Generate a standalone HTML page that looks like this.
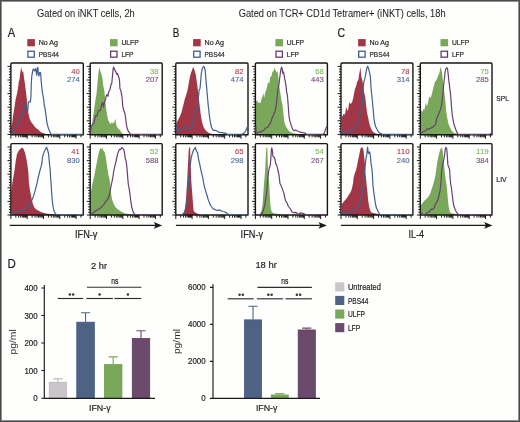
<!DOCTYPE html>
<html><head><meta charset="utf-8"><style>
html,body{margin:0;padding:0;background:#fff;}
body{width:520px;height:422px;overflow:hidden;}
svg{display:block;will-change:transform;}
text{font-family:"Liberation Sans",sans-serif;}
</style></head><body>
<svg width="520" height="422" viewBox="0 0 520 422">
<rect x="0" y="0" width="520" height="422" fill="#fefefd"/>
<text x="37" y="16.8" font-size="10.6" textLength="97.7" lengthAdjust="spacingAndGlyphs" fill="#231f20" stroke="#231f20" stroke-width="0.06" >Gated on iNKT cells, 2h</text>
<text x="238.7" y="16.8" font-size="10.6" textLength="206.9" lengthAdjust="spacingAndGlyphs" fill="#231f20" stroke="#231f20" stroke-width="0.06" >Gated on TCR+ CD1d Tetramer+ (iNKT) cells, 18h</text>
<text x="7.7" y="36.6" font-size="12.4" textLength="7.4" lengthAdjust="spacingAndGlyphs" fill="#231f20" stroke="#231f20" stroke-width="0.2" >A</text>
<text x="172.8" y="36.5" font-size="12.4" textLength="6.6" lengthAdjust="spacingAndGlyphs" fill="#231f20" stroke="#231f20" stroke-width="0.2" >B</text>
<text x="337.6" y="36.6" font-size="12.4" textLength="7.6" lengthAdjust="spacingAndGlyphs" fill="#231f20" stroke="#231f20" stroke-width="0.2" >C</text>
<rect x="27.3" y="39.1" width="7.6" height="7.2" fill="#a13746"/>
<rect x="27.900000000000002" y="51.2" width="6.4" height="6.0" fill="none" stroke="#3b5784" stroke-width="1.25"/>
<text x="38.7" y="45.4" font-size="8.1" textLength="19.4" lengthAdjust="spacingAndGlyphs" fill="#231f20" stroke="#231f20" stroke-width="0.2" >No Ag</text>
<text x="38.7" y="56.9" font-size="8.1" textLength="20.2" lengthAdjust="spacingAndGlyphs" fill="#231f20" stroke="#231f20" stroke-width="0.2" >PBS44</text>
<rect x="110.0" y="39.1" width="7.6" height="7.2" fill="#79a85a"/>
<rect x="110.6" y="51.2" width="6.4" height="6.0" fill="none" stroke="#5f3863" stroke-width="1.25"/>
<text x="121.4" y="45.4" font-size="8.1" textLength="17.3" lengthAdjust="spacingAndGlyphs" fill="#231f20" stroke="#231f20" stroke-width="0.2" >ULFP</text>
<text x="121.4" y="56.9" font-size="8.1" textLength="12.1" lengthAdjust="spacingAndGlyphs" fill="#231f20" stroke="#231f20" stroke-width="0.2" >LFP</text>
<rect x="193.1" y="39.1" width="7.6" height="7.2" fill="#a13746"/>
<rect x="193.7" y="51.2" width="6.4" height="6.0" fill="none" stroke="#3b5784" stroke-width="1.25"/>
<text x="204.5" y="45.4" font-size="8.1" textLength="19.4" lengthAdjust="spacingAndGlyphs" fill="#231f20" stroke="#231f20" stroke-width="0.2" >No Ag</text>
<text x="204.5" y="56.9" font-size="8.1" textLength="20.2" lengthAdjust="spacingAndGlyphs" fill="#231f20" stroke="#231f20" stroke-width="0.2" >PBS44</text>
<rect x="275.4" y="39.1" width="7.6" height="7.2" fill="#79a85a"/>
<rect x="276.0" y="51.2" width="6.4" height="6.0" fill="none" stroke="#5f3863" stroke-width="1.25"/>
<text x="286.79999999999995" y="45.4" font-size="8.1" textLength="17.3" lengthAdjust="spacingAndGlyphs" fill="#231f20" stroke="#231f20" stroke-width="0.2" >ULFP</text>
<text x="286.79999999999995" y="56.9" font-size="8.1" textLength="12.1" lengthAdjust="spacingAndGlyphs" fill="#231f20" stroke="#231f20" stroke-width="0.2" >LFP</text>
<rect x="358.1" y="39.1" width="7.6" height="7.2" fill="#a13746"/>
<rect x="358.70000000000005" y="51.2" width="6.4" height="6.0" fill="none" stroke="#3b5784" stroke-width="1.25"/>
<text x="369.5" y="45.4" font-size="8.1" textLength="19.4" lengthAdjust="spacingAndGlyphs" fill="#231f20" stroke="#231f20" stroke-width="0.2" >No Ag</text>
<text x="369.5" y="56.9" font-size="8.1" textLength="20.2" lengthAdjust="spacingAndGlyphs" fill="#231f20" stroke="#231f20" stroke-width="0.2" >PBS44</text>
<rect x="440.5" y="39.1" width="7.6" height="7.2" fill="#79a85a"/>
<rect x="441.1" y="51.2" width="6.4" height="6.0" fill="none" stroke="#5f3863" stroke-width="1.25"/>
<text x="451.9" y="45.4" font-size="8.1" textLength="17.3" lengthAdjust="spacingAndGlyphs" fill="#231f20" stroke="#231f20" stroke-width="0.2" >ULFP</text>
<text x="451.9" y="56.9" font-size="8.1" textLength="12.1" lengthAdjust="spacingAndGlyphs" fill="#231f20" stroke="#231f20" stroke-width="0.2" >LFP</text>
<polygon points="11.30,134.70 11.30,127.80 11.80,125.20 12.50,120.80 13.10,115.50 14.00,110.30 14.80,105.00 15.70,99.00 16.60,95.50 17.50,91.10 18.30,85.80 18.80,81.40 19.50,79.70 20.10,74.40 20.70,70.00 21.20,67.00 21.80,70.00 22.50,72.60 23.20,70.90 23.60,74.40 24.00,77.90 24.90,83.20 25.40,87.60 26.00,92.00 26.50,96.30 26.80,99.00 27.40,106.80 28.00,111.20 28.90,115.50 29.70,119.10 31.00,121.70 32.40,123.40 33.70,125.20 35.00,127.00 36.30,128.30 38.10,129.60 39.80,131.30 41.60,132.60 44.20,133.50 46.00,134.00 48.00,134.50 48.00,134.70" fill="#a13746"/>
<path d="M10.9,134.7 L10.9,64.0 Q10.9,63.0 11.9,63.0 L82.3,63.0 Q83.3,63.0 83.3,64.0 L83.3,134.7 M10.4,134.7 L83.8,134.7" fill="none" stroke="#161616" stroke-width="1.4"/>
<polyline points="11.30,134.35 12.60,133.10 14.00,131.30 15.30,128.70 16.60,126.10 17.90,122.60 18.80,119.90 19.60,117.30 20.50,115.50 21.80,115.10 22.70,112.50 23.60,109.40 24.50,105.90 25.10,103.30 25.80,105.00 26.50,107.60 27.10,110.30 27.70,111.20 28.00,106.80 28.40,102.40 29.30,101.50 30.40,101.80 30.90,97.00 31.10,90.00 31.30,83.00 31.80,76.20 32.40,72.60 33.00,69.60 33.70,69.10 34.40,70.90 35.00,70.00 35.60,68.70 36.10,71.80 36.80,75.30 37.20,68.30 37.90,67.40 38.20,71.80 38.90,76.20 39.60,72.60 40.50,72.60 40.90,76.20 41.10,80.50 41.60,84.90 42.00,89.30 42.60,93.70 43.30,97.20 43.80,100.00 44.20,105.00 45.00,108.20 45.90,114.60 46.80,122.00 48.20,127.60 49.60,131.30 51.00,134.35 52.40,134.35 74.60,134.35 76.40,134.35 80.00,134.35 82.80,134.35" fill="none" stroke="#41608e" stroke-width="1.2" stroke-linejoin="round"/>
<path d="M7.50,66.40H10.9M8.90,69.12H10.9M8.90,71.84H10.9M8.90,74.56H10.9M8.90,77.28H10.9M7.50,80.00H10.9M8.90,82.72H10.9M8.90,85.44H10.9M8.90,88.16H10.9M8.90,90.88H10.9M7.50,93.60H10.9M8.90,96.32H10.9M8.90,99.04H10.9M8.90,101.76H10.9M8.90,104.48H10.9M7.50,107.20H10.9M8.90,109.92H10.9M8.90,112.64H10.9M8.90,115.36H10.9M8.90,118.08H10.9M7.50,120.80H10.9M8.90,123.52H10.9M8.90,126.24H10.9M8.90,128.96H10.9M8.90,131.68H10.9M7.50,134.40H10.9M10.90,134.7V138.70M15.81,134.7V137.30M18.68,134.7V137.30M20.71,134.7V137.30M22.29,134.7V137.30M23.58,134.7V137.30M24.68,134.7V137.30M25.62,134.7V137.30M26.45,134.7V137.30M27.20,134.7V138.70M32.11,134.7V137.30M34.98,134.7V137.30M37.01,134.7V137.30M38.59,134.7V137.30M39.88,134.7V137.30M40.98,134.7V137.30M41.92,134.7V137.30M42.75,134.7V137.30M43.50,134.7V138.70M48.41,134.7V137.30M51.28,134.7V137.30M53.31,134.7V137.30M54.89,134.7V137.30M56.18,134.7V137.30M57.28,134.7V137.30M58.22,134.7V137.30M59.05,134.7V137.30M59.80,134.7V138.70M64.71,134.7V137.30M67.58,134.7V137.30M69.61,134.7V137.30M71.19,134.7V137.30M72.48,134.7V137.30M73.58,134.7V137.30M74.52,134.7V137.30M75.35,134.7V137.30M76.10,134.7V138.70M81.01,134.7V137.30" stroke="#1a1a1a" stroke-width="1.0" fill="none"/>
<text x="79.7" y="73.5" font-size="8.0" text-anchor="end" textLength="8.50" lengthAdjust="spacingAndGlyphs" fill="#ad3c4e" stroke="#ad3c4e" stroke-width="0.1">40</text>
<text x="79.7" y="82.1" font-size="8.0" text-anchor="end" textLength="12.75" lengthAdjust="spacingAndGlyphs" fill="#4a6690" stroke="#4a6690" stroke-width="0.1">274</text>
<polygon points="90.60,134.70 90.60,131.30 91.20,127.80 92.10,123.40 92.90,118.20 93.80,112.00 94.70,105.00 95.60,99.00 96.50,93.70 97.10,87.60 97.60,81.40 98.20,76.20 98.60,71.80 99.10,68.30 99.50,67.40 100.00,70.00 100.60,71.80 101.30,73.50 102.00,77.00 102.60,78.80 103.00,84.10 103.70,87.60 104.40,91.10 104.80,95.50 105.20,99.00 105.70,105.00 106.50,111.20 107.40,116.40 108.30,120.40 109.20,121.70 110.10,124.30 110.90,123.40 111.60,122.10 112.20,123.90 113.10,122.10 114.00,123.40 114.90,119.90 115.50,119.10 116.00,123.40 116.60,126.10 117.90,128.30 119.30,129.60 120.60,131.30 121.90,133.10 123.20,134.00 125.00,134.50 125.00,134.70" fill="#79a85a"/>
<path d="M90.2,134.7 L90.2,64.0 Q90.2,63.0 91.2,63.0 L161.2,63.0 Q162.2,63.0 162.2,64.0 L162.2,134.7 M89.7,134.7 L162.7,134.7" fill="none" stroke="#161616" stroke-width="1.4"/>
<polyline points="90.30,133.10 91.20,127.00 92.50,124.30 93.80,123.40 94.70,119.90 95.60,115.50 96.50,116.40 97.30,114.70 98.20,111.20 99.10,110.30 100.00,110.70 100.80,108.50 101.70,105.00 102.60,102.40 103.50,106.80 104.40,102.40 105.00,100.60 105.70,98.90 106.10,96.30 107.00,94.60 107.90,96.30 108.70,92.00 110.10,89.30 110.90,84.90 111.80,83.20 112.20,78.80 112.70,73.50 113.10,69.10 113.60,67.00 114.40,69.10 115.30,70.90 116.20,72.60 116.90,74.40 117.50,73.50 118.40,76.20 119.30,78.80 119.70,83.20 119.90,88.40 120.60,90.20 121.30,92.80 121.90,96.30 122.30,100.00 122.60,105.00 123.20,108.50 124.10,111.20 124.90,113.50 125.70,118.30 126.30,123.90 127.20,128.50 128.60,131.70 130.50,134.35 133.20,134.35 142.50,134.35 156.30,134.35 161.50,134.35" fill="none" stroke="#68406e" stroke-width="1.2" stroke-linejoin="round"/>
<path d="M86.80,66.40H90.2M88.20,69.12H90.2M88.20,71.84H90.2M88.20,74.56H90.2M88.20,77.28H90.2M86.80,80.00H90.2M88.20,82.72H90.2M88.20,85.44H90.2M88.20,88.16H90.2M88.20,90.88H90.2M86.80,93.60H90.2M88.20,96.32H90.2M88.20,99.04H90.2M88.20,101.76H90.2M88.20,104.48H90.2M86.80,107.20H90.2M88.20,109.92H90.2M88.20,112.64H90.2M88.20,115.36H90.2M88.20,118.08H90.2M86.80,120.80H90.2M88.20,123.52H90.2M88.20,126.24H90.2M88.20,128.96H90.2M88.20,131.68H90.2M86.80,134.40H90.2M90.20,134.7V138.70M95.11,134.7V137.30M97.98,134.7V137.30M100.01,134.7V137.30M101.59,134.7V137.30M102.88,134.7V137.30M103.98,134.7V137.30M104.92,134.7V137.30M105.75,134.7V137.30M106.50,134.7V138.70M111.41,134.7V137.30M114.28,134.7V137.30M116.31,134.7V137.30M117.89,134.7V137.30M119.18,134.7V137.30M120.28,134.7V137.30M121.22,134.7V137.30M122.05,134.7V137.30M122.80,134.7V138.70M127.71,134.7V137.30M130.58,134.7V137.30M132.61,134.7V137.30M134.19,134.7V137.30M135.48,134.7V137.30M136.58,134.7V137.30M137.52,134.7V137.30M138.35,134.7V137.30M139.10,134.7V138.70M144.01,134.7V137.30M146.88,134.7V137.30M148.91,134.7V137.30M150.49,134.7V137.30M151.78,134.7V137.30M152.88,134.7V137.30M153.82,134.7V137.30M154.65,134.7V137.30M155.40,134.7V138.70M160.31,134.7V137.30" stroke="#1a1a1a" stroke-width="1.0" fill="none"/>
<text x="158.4" y="73.5" font-size="8.0" text-anchor="end" textLength="8.50" lengthAdjust="spacingAndGlyphs" fill="#7db35e" stroke="#7db35e" stroke-width="0.1">38</text>
<text x="158.4" y="82.1" font-size="8.0" text-anchor="end" textLength="12.75" lengthAdjust="spacingAndGlyphs" fill="#744c74" stroke="#744c74" stroke-width="0.1">207</text>
<polygon points="176.20,134.70 176.20,124.50 176.80,122.60 177.60,120.80 179.00,118.20 180.30,115.50 181.60,112.00 182.90,106.80 183.80,103.30 184.80,99.00 186.00,95.50 187.30,91.10 188.20,86.70 189.00,81.40 189.90,77.00 190.80,73.50 191.70,70.90 192.50,68.70 193.40,67.00 194.10,69.10 195.00,71.80 195.90,75.30 196.50,79.70 197.40,85.80 198.00,91.10 198.70,97.00 199.40,103.30 200.00,108.50 200.90,115.50 201.80,120.80 202.60,124.30 203.90,127.80 205.70,130.50 207.90,132.20 210.10,133.50 213.00,134.20 215.00,134.50 215.00,134.70" fill="#a13746"/>
<path d="M175.8,134.7 L175.8,64.0 Q175.8,63.0 176.8,63.0 L247.0,63.0 Q248.0,63.0 248.0,64.0 L248.0,134.7 M175.3,134.7 L248.5,134.7" fill="none" stroke="#161616" stroke-width="1.4"/>
<polyline points="176.20,126.50 176.80,129.60 177.60,130.90 178.50,131.30 179.80,131.30 181.10,130.50 182.00,129.60 183.30,128.70 184.60,127.80 186.00,126.90 187.30,127.40 188.20,128.30 189.00,128.70 190.40,128.30 191.70,127.40 192.50,124.30 193.90,119.90 195.20,115.50 196.50,110.30 197.40,105.00 198.20,99.00 198.70,94.60 199.10,90.20 200.00,88.40 200.40,84.10 200.90,78.80 201.30,73.50 202.20,69.10 203.10,67.00 203.80,66.30 204.60,67.80 205.30,70.90 205.70,76.20 206.10,82.30 206.80,89.30 207.40,96.00 207.90,102.00 208.50,108.00 209.20,114.00 209.90,119.50 210.70,124.00 211.60,127.50 212.50,129.40 213.70,130.30 215.50,130.30 217.40,131.30 219.20,132.40 222.00,132.70 224.80,133.10 227.60,134.35 237.70,134.35 241.90,134.35 244.20,132.70 245.60,131.30 246.50,129.00 247.40,126.70" fill="none" stroke="#41608e" stroke-width="1.2" stroke-linejoin="round"/>
<path d="M172.40,66.40H175.8M173.80,69.12H175.8M173.80,71.84H175.8M173.80,74.56H175.8M173.80,77.28H175.8M172.40,80.00H175.8M173.80,82.72H175.8M173.80,85.44H175.8M173.80,88.16H175.8M173.80,90.88H175.8M172.40,93.60H175.8M173.80,96.32H175.8M173.80,99.04H175.8M173.80,101.76H175.8M173.80,104.48H175.8M172.40,107.20H175.8M173.80,109.92H175.8M173.80,112.64H175.8M173.80,115.36H175.8M173.80,118.08H175.8M172.40,120.80H175.8M173.80,123.52H175.8M173.80,126.24H175.8M173.80,128.96H175.8M173.80,131.68H175.8M172.40,134.40H175.8M175.80,134.7V138.70M180.71,134.7V137.30M183.58,134.7V137.30M185.61,134.7V137.30M187.19,134.7V137.30M188.48,134.7V137.30M189.58,134.7V137.30M190.52,134.7V137.30M191.35,134.7V137.30M192.10,134.7V138.70M197.01,134.7V137.30M199.88,134.7V137.30M201.91,134.7V137.30M203.49,134.7V137.30M204.78,134.7V137.30M205.88,134.7V137.30M206.82,134.7V137.30M207.65,134.7V137.30M208.40,134.7V138.70M213.31,134.7V137.30M216.18,134.7V137.30M218.21,134.7V137.30M219.79,134.7V137.30M221.08,134.7V137.30M222.18,134.7V137.30M223.12,134.7V137.30M223.95,134.7V137.30M224.70,134.7V138.70M229.61,134.7V137.30M232.48,134.7V137.30M234.51,134.7V137.30M236.09,134.7V137.30M237.38,134.7V137.30M238.48,134.7V137.30M239.42,134.7V137.30M240.25,134.7V137.30M241.00,134.7V138.70M245.91,134.7V137.30" stroke="#1a1a1a" stroke-width="1.0" fill="none"/>
<text x="243.5" y="73.5" font-size="8.0" text-anchor="end" textLength="8.50" lengthAdjust="spacingAndGlyphs" fill="#ad3c4e" stroke="#ad3c4e" stroke-width="0.1">82</text>
<text x="243.5" y="82.1" font-size="8.0" text-anchor="end" textLength="12.75" lengthAdjust="spacingAndGlyphs" fill="#4a6690" stroke="#4a6690" stroke-width="0.1">474</text>
<polygon points="255.60,134.70 255.60,101.00 256.50,101.50 257.20,100.00 258.00,103.00 259.00,102.50 260.50,103.00 261.50,99.00 262.80,95.50 263.50,92.80 264.10,98.00 265.40,92.00 266.70,88.40 268.00,82.30 269.40,83.20 270.20,77.00 271.50,76.20 272.40,71.80 273.70,70.90 274.60,67.80 275.50,70.00 276.40,72.60 277.20,70.90 277.90,73.50 278.60,80.50 279.40,87.60 280.30,92.80 281.20,99.00 282.50,105.00 283.40,113.80 284.30,121.70 285.60,126.10 287.30,128.70 289.10,131.00 290.80,132.20 294.50,133.60 298.20,134.00 302.00,134.50 302.00,134.70" fill="#79a85a"/>
<path d="M255.4,134.7 L255.4,64.0 Q255.4,63.0 256.4,63.0 L326.4,63.0 Q327.4,63.0 327.4,64.0 L327.4,134.7 M254.9,134.7 L327.9,134.7" fill="none" stroke="#161616" stroke-width="1.4"/>
<polyline points="255.80,126.00 255.90,132.60 257.10,133.10 258.40,132.20 260.10,131.80 261.90,131.30 263.60,130.50 265.00,128.70 266.30,127.80 268.00,127.00 269.40,124.30 270.70,122.60 272.00,118.20 273.30,115.50 274.60,112.00 275.50,109.40 276.60,103.00 277.20,96.00 278.10,88.40 279.00,84.10 279.60,78.80 280.30,73.50 281.00,69.10 281.60,67.00 282.20,69.10 282.80,73.50 283.40,71.80 284.00,74.40 284.70,78.80 285.60,83.20 286.30,88.40 286.60,91.90 287.30,94.60 287.80,100.00 288.40,108.00 289.00,116.50 289.90,121.10 291.30,125.70 292.70,129.40 294.10,130.80 295.50,129.90 296.90,130.80 298.20,131.30 300.10,132.20 302.90,132.70 304.70,132.90 306.60,134.35 312.10,134.35 319.50,134.35 322.70,134.35 324.60,132.70 325.50,129.40 326.40,127.60 327.00,126.00" fill="none" stroke="#68406e" stroke-width="1.2" stroke-linejoin="round"/>
<path d="M252.00,66.40H255.4M253.40,69.12H255.4M253.40,71.84H255.4M253.40,74.56H255.4M253.40,77.28H255.4M252.00,80.00H255.4M253.40,82.72H255.4M253.40,85.44H255.4M253.40,88.16H255.4M253.40,90.88H255.4M252.00,93.60H255.4M253.40,96.32H255.4M253.40,99.04H255.4M253.40,101.76H255.4M253.40,104.48H255.4M252.00,107.20H255.4M253.40,109.92H255.4M253.40,112.64H255.4M253.40,115.36H255.4M253.40,118.08H255.4M252.00,120.80H255.4M253.40,123.52H255.4M253.40,126.24H255.4M253.40,128.96H255.4M253.40,131.68H255.4M252.00,134.40H255.4M255.40,134.7V138.70M260.31,134.7V137.30M263.18,134.7V137.30M265.21,134.7V137.30M266.79,134.7V137.30M268.08,134.7V137.30M269.18,134.7V137.30M270.12,134.7V137.30M270.95,134.7V137.30M271.70,134.7V138.70M276.61,134.7V137.30M279.48,134.7V137.30M281.51,134.7V137.30M283.09,134.7V137.30M284.38,134.7V137.30M285.48,134.7V137.30M286.42,134.7V137.30M287.25,134.7V137.30M288.00,134.7V138.70M292.91,134.7V137.30M295.78,134.7V137.30M297.81,134.7V137.30M299.39,134.7V137.30M300.68,134.7V137.30M301.78,134.7V137.30M302.72,134.7V137.30M303.55,134.7V137.30M304.30,134.7V138.70M309.21,134.7V137.30M312.08,134.7V137.30M314.11,134.7V137.30M315.69,134.7V137.30M316.98,134.7V137.30M318.08,134.7V137.30M319.02,134.7V137.30M319.85,134.7V137.30M320.60,134.7V138.70M325.51,134.7V137.30" stroke="#1a1a1a" stroke-width="1.0" fill="none"/>
<text x="323.7" y="73.5" font-size="8.0" text-anchor="end" textLength="8.50" lengthAdjust="spacingAndGlyphs" fill="#7db35e" stroke="#7db35e" stroke-width="0.1">68</text>
<text x="323.7" y="82.1" font-size="8.0" text-anchor="end" textLength="12.75" lengthAdjust="spacingAndGlyphs" fill="#744c74" stroke="#744c74" stroke-width="0.1">443</text>
<polygon points="341.80,134.70 341.80,115.50 342.60,116.40 343.50,113.80 344.40,114.70 345.30,112.90 346.10,106.80 347.00,109.40 347.90,111.20 348.80,105.00 349.50,101.50 350.10,104.10 351.40,103.30 352.30,101.50 353.20,98.00 354.00,93.70 354.90,89.30 356.20,85.80 357.10,81.90 358.40,79.70 359.30,73.50 360.00,70.00 360.40,67.00 360.90,71.80 361.20,76.20 361.90,78.80 362.60,81.40 363.20,85.80 364.10,92.00 365.00,96.30 365.60,100.00 366.30,106.80 367.20,113.80 368.10,117.30 368.90,121.70 369.80,125.20 371.10,128.70 372.50,131.30 373.80,132.60 376.00,133.50 378.70,134.20 381.00,134.50 381.00,134.70" fill="#a13746"/>
<path d="M341.0,134.7 L341.0,64.0 Q341.0,63.0 342.0,63.0 L411.9,63.0 Q412.9,63.0 412.9,64.0 L412.9,134.7 M340.5,134.7 L413.4,134.7" fill="none" stroke="#161616" stroke-width="1.4"/>
<polyline points="341.30,128.70 341.80,131.30 342.60,132.60 343.90,132.60 346.10,132.00 347.90,131.30 350.50,130.90 352.30,130.50 354.00,129.10 355.80,126.10 357.10,123.40 358.00,121.20 358.90,119.90 359.70,115.50 360.60,112.00 361.50,108.10 362.30,103.00 362.60,99.00 363.00,93.00 363.40,86.00 363.90,81.40 364.60,79.70 365.40,76.20 366.10,71.80 366.80,68.30 367.60,66.30 368.50,68.30 369.40,71.80 370.30,76.20 370.70,82.30 371.10,89.30 371.80,95.00 372.30,100.00 372.90,107.00 373.40,111.50 373.80,117.30 374.60,122.60 375.60,126.50 376.60,128.50 377.80,130.80 379.60,133.10 382.40,134.35 412.30,134.35" fill="none" stroke="#41608e" stroke-width="1.2" stroke-linejoin="round"/>
<path d="M337.60,66.40H341.0M339.00,69.12H341.0M339.00,71.84H341.0M339.00,74.56H341.0M339.00,77.28H341.0M337.60,80.00H341.0M339.00,82.72H341.0M339.00,85.44H341.0M339.00,88.16H341.0M339.00,90.88H341.0M337.60,93.60H341.0M339.00,96.32H341.0M339.00,99.04H341.0M339.00,101.76H341.0M339.00,104.48H341.0M337.60,107.20H341.0M339.00,109.92H341.0M339.00,112.64H341.0M339.00,115.36H341.0M339.00,118.08H341.0M337.60,120.80H341.0M339.00,123.52H341.0M339.00,126.24H341.0M339.00,128.96H341.0M339.00,131.68H341.0M337.60,134.40H341.0M341.00,134.7V138.70M345.91,134.7V137.30M348.78,134.7V137.30M350.81,134.7V137.30M352.39,134.7V137.30M353.68,134.7V137.30M354.78,134.7V137.30M355.72,134.7V137.30M356.55,134.7V137.30M357.30,134.7V138.70M362.21,134.7V137.30M365.08,134.7V137.30M367.11,134.7V137.30M368.69,134.7V137.30M369.98,134.7V137.30M371.08,134.7V137.30M372.02,134.7V137.30M372.85,134.7V137.30M373.60,134.7V138.70M378.51,134.7V137.30M381.38,134.7V137.30M383.41,134.7V137.30M384.99,134.7V137.30M386.28,134.7V137.30M387.38,134.7V137.30M388.32,134.7V137.30M389.15,134.7V137.30M389.90,134.7V138.70M394.81,134.7V137.30M397.68,134.7V137.30M399.71,134.7V137.30M401.29,134.7V137.30M402.58,134.7V137.30M403.68,134.7V137.30M404.62,134.7V137.30M405.45,134.7V137.30M406.20,134.7V138.70M411.11,134.7V137.30" stroke="#1a1a1a" stroke-width="1.0" fill="none"/>
<text x="409.6" y="73.5" font-size="8.0" text-anchor="end" textLength="8.50" lengthAdjust="spacingAndGlyphs" fill="#ad3c4e" stroke="#ad3c4e" stroke-width="0.1">78</text>
<text x="409.6" y="82.1" font-size="8.0" text-anchor="end" textLength="12.75" lengthAdjust="spacingAndGlyphs" fill="#4a6690" stroke="#4a6690" stroke-width="0.1">314</text>
<polygon points="420.80,134.70 420.80,112.00 421.60,110.30 422.50,112.00 423.40,108.50 424.30,110.30 425.10,105.90 426.00,102.40 426.90,106.80 427.80,103.30 428.60,99.80 429.50,96.30 430.80,98.10 432.20,92.80 433.00,89.30 433.90,85.80 434.80,82.30 436.10,80.50 437.00,78.80 437.90,76.20 438.70,74.40 439.60,72.60 440.20,68.30 440.80,67.00 441.40,70.00 442.00,72.60 442.50,77.00 442.90,80.50 443.40,84.10 444.00,89.30 444.60,94.60 445.20,100.00 445.60,104.00 446.20,111.20 447.10,117.30 448.40,123.40 449.70,127.00 451.50,130.50 453.60,132.60 455.80,133.50 458.00,134.20 460.00,134.50 460.00,134.70" fill="#79a85a"/>
<path d="M420.3,134.7 L420.3,64.0 Q420.3,63.0 421.3,63.0 L491.0,63.0 Q492.0,63.0 492.0,64.0 L492.0,134.7 M419.8,134.7 L492.5,134.7" fill="none" stroke="#161616" stroke-width="1.4"/>
<polyline points="420.30,131.30 421.20,132.60 422.50,132.20 424.30,131.30 426.00,130.50 427.30,128.70 428.60,129.10 430.40,128.30 432.20,127.40 433.90,126.10 435.70,124.30 436.50,119.10 437.90,115.50 439.20,112.90 440.50,109.40 441.60,105.00 442.30,99.00 442.90,92.80 443.40,86.70 444.00,82.30 444.60,77.00 445.10,71.80 445.80,69.10 446.60,67.80 447.50,68.30 447.90,71.80 448.40,76.20 448.80,80.50 449.30,84.10 449.70,87.60 450.40,92.80 450.80,97.00 451.50,106.80 452.30,115.50 453.60,122.60 454.40,125.80 455.40,128.50 456.80,132.20 458.20,134.35 490.00,134.35 491.50,133.00" fill="none" stroke="#68406e" stroke-width="1.2" stroke-linejoin="round"/>
<path d="M416.90,66.40H420.3M418.30,69.12H420.3M418.30,71.84H420.3M418.30,74.56H420.3M418.30,77.28H420.3M416.90,80.00H420.3M418.30,82.72H420.3M418.30,85.44H420.3M418.30,88.16H420.3M418.30,90.88H420.3M416.90,93.60H420.3M418.30,96.32H420.3M418.30,99.04H420.3M418.30,101.76H420.3M418.30,104.48H420.3M416.90,107.20H420.3M418.30,109.92H420.3M418.30,112.64H420.3M418.30,115.36H420.3M418.30,118.08H420.3M416.90,120.80H420.3M418.30,123.52H420.3M418.30,126.24H420.3M418.30,128.96H420.3M418.30,131.68H420.3M416.90,134.40H420.3M420.30,134.7V138.70M425.21,134.7V137.30M428.08,134.7V137.30M430.11,134.7V137.30M431.69,134.7V137.30M432.98,134.7V137.30M434.08,134.7V137.30M435.02,134.7V137.30M435.85,134.7V137.30M436.60,134.7V138.70M441.51,134.7V137.30M444.38,134.7V137.30M446.41,134.7V137.30M447.99,134.7V137.30M449.28,134.7V137.30M450.38,134.7V137.30M451.32,134.7V137.30M452.15,134.7V137.30M452.90,134.7V138.70M457.81,134.7V137.30M460.68,134.7V137.30M462.71,134.7V137.30M464.29,134.7V137.30M465.58,134.7V137.30M466.68,134.7V137.30M467.62,134.7V137.30M468.45,134.7V137.30M469.20,134.7V138.70M474.11,134.7V137.30M476.98,134.7V137.30M479.01,134.7V137.30M480.59,134.7V137.30M481.88,134.7V137.30M482.98,134.7V137.30M483.92,134.7V137.30M484.75,134.7V137.30M485.50,134.7V138.70M490.41,134.7V137.30" stroke="#1a1a1a" stroke-width="1.0" fill="none"/>
<text x="488.8" y="73.5" font-size="8.0" text-anchor="end" textLength="8.50" lengthAdjust="spacingAndGlyphs" fill="#7db35e" stroke="#7db35e" stroke-width="0.1">75</text>
<text x="488.8" y="82.1" font-size="8.0" text-anchor="end" textLength="12.75" lengthAdjust="spacingAndGlyphs" fill="#744c74" stroke="#744c74" stroke-width="0.1">285</text>
<polygon points="11.30,215.00 11.30,192.00 12.20,184.00 13.20,178.00 14.20,172.00 15.00,167.00 15.70,161.00 17.00,154.00 18.80,150.50 20.50,148.70 22.30,147.40 23.60,149.10 24.90,152.60 25.80,156.20 26.70,160.50 27.50,165.80 28.40,173.00 28.90,183.30 29.70,188.50 30.60,193.80 31.50,198.20 32.80,203.40 34.10,207.00 35.40,208.70 38.00,210.50 41.60,212.20 46.00,213.50 52.00,214.20 60.00,214.70 60.00,215.00" fill="#a13746"/>
<path d="M10.9,215.0 L10.9,144.6 Q10.9,143.6 11.9,143.6 L82.3,143.6 Q83.3,143.6 83.3,144.6 L83.3,215.0 M10.4,215.0 L83.8,215.0" fill="none" stroke="#161616" stroke-width="1.4"/>
<polyline points="11.00,214.65 13.50,212.60 17.00,211.80 20.50,210.90 24.00,209.60 27.10,207.80 28.40,206.00 29.30,204.30 30.60,203.40 31.50,200.80 32.40,199.00 33.20,196.90 34.10,194.20 35.00,191.20 35.90,187.60 36.80,184.10 37.60,180.60 38.20,177.50 39.80,171.00 41.10,166.70 41.90,163.20 42.40,157.90 43.30,154.40 44.60,150.90 45.90,148.30 46.60,147.20 47.60,150.00 48.50,153.50 49.00,157.90 49.40,163.20 50.30,171.00 50.60,178.00 51.20,185.00 51.60,192.00 52.20,200.00 52.90,206.00 53.80,210.50 55.10,213.10 56.40,214.65 70.00,214.65 83.00,214.65" fill="none" stroke="#41608e" stroke-width="1.2" stroke-linejoin="round"/>
<path d="M7.50,147.00H10.9M8.90,149.72H10.9M8.90,152.44H10.9M8.90,155.16H10.9M8.90,157.88H10.9M7.50,160.60H10.9M8.90,163.32H10.9M8.90,166.04H10.9M8.90,168.76H10.9M8.90,171.48H10.9M7.50,174.20H10.9M8.90,176.92H10.9M8.90,179.64H10.9M8.90,182.36H10.9M8.90,185.08H10.9M7.50,187.80H10.9M8.90,190.52H10.9M8.90,193.24H10.9M8.90,195.96H10.9M8.90,198.68H10.9M7.50,201.40H10.9M8.90,204.12H10.9M8.90,206.84H10.9M8.90,209.56H10.9M8.90,212.28H10.9M7.50,215.00H10.9M10.90,215.0V219.00M15.81,215.0V217.60M18.68,215.0V217.60M20.71,215.0V217.60M22.29,215.0V217.60M23.58,215.0V217.60M24.68,215.0V217.60M25.62,215.0V217.60M26.45,215.0V217.60M27.20,215.0V219.00M32.11,215.0V217.60M34.98,215.0V217.60M37.01,215.0V217.60M38.59,215.0V217.60M39.88,215.0V217.60M40.98,215.0V217.60M41.92,215.0V217.60M42.75,215.0V217.60M43.50,215.0V219.00M48.41,215.0V217.60M51.28,215.0V217.60M53.31,215.0V217.60M54.89,215.0V217.60M56.18,215.0V217.60M57.28,215.0V217.60M58.22,215.0V217.60M59.05,215.0V217.60M59.80,215.0V219.00M64.71,215.0V217.60M67.58,215.0V217.60M69.61,215.0V217.60M71.19,215.0V217.60M72.48,215.0V217.60M73.58,215.0V217.60M74.52,215.0V217.60M75.35,215.0V217.60M76.10,215.0V219.00M81.01,215.0V217.60" stroke="#1a1a1a" stroke-width="1.0" fill="none"/>
<text x="79.7" y="154.1" font-size="8.0" text-anchor="end" textLength="8.50" lengthAdjust="spacingAndGlyphs" fill="#ad3c4e" stroke="#ad3c4e" stroke-width="0.1">41</text>
<text x="79.7" y="162.7" font-size="8.0" text-anchor="end" textLength="12.75" lengthAdjust="spacingAndGlyphs" fill="#4a6690" stroke="#4a6690" stroke-width="0.1">830</text>
<polygon points="90.60,215.00 90.60,193.00 91.60,188.50 92.50,183.30 93.80,178.00 94.70,173.70 95.60,168.40 96.50,164.00 97.30,159.70 98.20,155.30 99.10,151.80 100.00,149.10 100.60,147.80 101.30,149.60 102.20,147.40 103.00,150.00 103.90,151.30 104.80,152.60 105.70,157.00 106.50,162.30 107.40,168.40 108.30,174.60 109.40,178.50 110.50,186.80 111.40,195.50 112.20,199.90 113.60,203.40 115.30,207.00 118.00,209.60 121.50,211.80 125.00,213.50 130.00,214.30 136.00,214.70 136.00,215.00" fill="#79a85a"/>
<path d="M90.2,215.0 L90.2,144.6 Q90.2,143.6 91.2,143.6 L161.2,143.6 Q162.2,143.6 162.2,144.6 L162.2,215.0 M89.7,215.0 L162.7,215.0" fill="none" stroke="#161616" stroke-width="1.4"/>
<polyline points="90.80,214.65 94.30,211.80 97.80,209.60 101.30,207.40 103.90,204.30 105.70,201.70 107.90,199.00 109.20,195.50 110.10,191.20 110.90,186.80 111.80,182.40 112.60,179.00 113.60,172.00 114.90,165.80 116.20,160.50 117.50,154.40 118.40,151.80 119.70,149.10 120.60,149.60 121.90,147.40 122.80,148.30 123.60,149.10 124.50,152.60 125.30,158.80 126.20,161.40 126.60,164.90 127.10,169.30 127.50,174.60 127.90,180.00 128.40,185.00 129.30,189.40 130.10,195.50 131.00,202.60 131.90,207.80 133.20,212.20 135.00,214.65 161.50,214.65" fill="none" stroke="#68406e" stroke-width="1.2" stroke-linejoin="round"/>
<path d="M86.80,147.00H90.2M88.20,149.72H90.2M88.20,152.44H90.2M88.20,155.16H90.2M88.20,157.88H90.2M86.80,160.60H90.2M88.20,163.32H90.2M88.20,166.04H90.2M88.20,168.76H90.2M88.20,171.48H90.2M86.80,174.20H90.2M88.20,176.92H90.2M88.20,179.64H90.2M88.20,182.36H90.2M88.20,185.08H90.2M86.80,187.80H90.2M88.20,190.52H90.2M88.20,193.24H90.2M88.20,195.96H90.2M88.20,198.68H90.2M86.80,201.40H90.2M88.20,204.12H90.2M88.20,206.84H90.2M88.20,209.56H90.2M88.20,212.28H90.2M86.80,215.00H90.2M90.20,215.0V219.00M95.11,215.0V217.60M97.98,215.0V217.60M100.01,215.0V217.60M101.59,215.0V217.60M102.88,215.0V217.60M103.98,215.0V217.60M104.92,215.0V217.60M105.75,215.0V217.60M106.50,215.0V219.00M111.41,215.0V217.60M114.28,215.0V217.60M116.31,215.0V217.60M117.89,215.0V217.60M119.18,215.0V217.60M120.28,215.0V217.60M121.22,215.0V217.60M122.05,215.0V217.60M122.80,215.0V219.00M127.71,215.0V217.60M130.58,215.0V217.60M132.61,215.0V217.60M134.19,215.0V217.60M135.48,215.0V217.60M136.58,215.0V217.60M137.52,215.0V217.60M138.35,215.0V217.60M139.10,215.0V219.00M144.01,215.0V217.60M146.88,215.0V217.60M148.91,215.0V217.60M150.49,215.0V217.60M151.78,215.0V217.60M152.88,215.0V217.60M153.82,215.0V217.60M154.65,215.0V217.60M155.40,215.0V219.00M160.31,215.0V217.60" stroke="#1a1a1a" stroke-width="1.0" fill="none"/>
<text x="158.4" y="154.1" font-size="8.0" text-anchor="end" textLength="8.50" lengthAdjust="spacingAndGlyphs" fill="#7db35e" stroke="#7db35e" stroke-width="0.1">52</text>
<text x="158.4" y="162.7" font-size="8.0" text-anchor="end" textLength="12.75" lengthAdjust="spacingAndGlyphs" fill="#744c74" stroke="#744c74" stroke-width="0.1">588</text>
<polygon points="183.30,215.00 183.30,213.50 184.20,212.20 185.10,208.70 185.70,202.60 186.20,195.50 186.80,186.80 187.20,180.00 187.70,169.30 188.20,160.50 188.60,151.80 189.00,147.40 190.10,147.40 190.40,156.20 190.60,164.90 191.00,172.00 191.20,180.00 191.70,186.80 192.40,195.50 193.00,204.30 193.40,209.60 194.30,211.80 196.10,213.10 197.80,213.80 200.00,214.70 200.00,215.00" fill="#a13746"/>
<path d="M175.8,215.0 L175.8,144.6 Q175.8,143.6 176.8,143.6 L247.0,143.6 Q248.0,143.6 248.0,144.6 L248.0,215.0 M175.3,215.0 L248.5,215.0" fill="none" stroke="#161616" stroke-width="1.4"/>
<polyline points="182.00,214.65 183.30,213.50 184.60,211.80 185.50,208.70 186.60,202.60 187.50,195.50 188.20,186.80 188.60,180.00 189.00,173.70 189.90,167.60 190.60,162.30 191.20,157.90 192.10,154.40 193.00,151.80 193.60,149.60 194.50,149.10 195.40,147.40 196.10,150.00 196.90,151.80 197.60,152.60 198.00,155.30 198.50,158.80 199.10,161.40 199.70,164.00 200.40,167.60 201.10,171.00 202.00,174.60 202.90,178.10 203.30,181.00 204.40,186.80 205.70,191.20 207.00,195.50 208.30,199.90 209.60,203.40 211.00,206.00 212.80,208.50 214.60,209.40 216.50,210.30 218.30,210.30 219.70,209.90 221.10,210.80 222.90,211.50 224.80,212.00 226.60,212.90 228.50,214.65 232.20,214.65 247.50,214.65" fill="none" stroke="#41608e" stroke-width="1.2" stroke-linejoin="round"/>
<path d="M172.40,147.00H175.8M173.80,149.72H175.8M173.80,152.44H175.8M173.80,155.16H175.8M173.80,157.88H175.8M172.40,160.60H175.8M173.80,163.32H175.8M173.80,166.04H175.8M173.80,168.76H175.8M173.80,171.48H175.8M172.40,174.20H175.8M173.80,176.92H175.8M173.80,179.64H175.8M173.80,182.36H175.8M173.80,185.08H175.8M172.40,187.80H175.8M173.80,190.52H175.8M173.80,193.24H175.8M173.80,195.96H175.8M173.80,198.68H175.8M172.40,201.40H175.8M173.80,204.12H175.8M173.80,206.84H175.8M173.80,209.56H175.8M173.80,212.28H175.8M172.40,215.00H175.8M175.80,215.0V219.00M180.71,215.0V217.60M183.58,215.0V217.60M185.61,215.0V217.60M187.19,215.0V217.60M188.48,215.0V217.60M189.58,215.0V217.60M190.52,215.0V217.60M191.35,215.0V217.60M192.10,215.0V219.00M197.01,215.0V217.60M199.88,215.0V217.60M201.91,215.0V217.60M203.49,215.0V217.60M204.78,215.0V217.60M205.88,215.0V217.60M206.82,215.0V217.60M207.65,215.0V217.60M208.40,215.0V219.00M213.31,215.0V217.60M216.18,215.0V217.60M218.21,215.0V217.60M219.79,215.0V217.60M221.08,215.0V217.60M222.18,215.0V217.60M223.12,215.0V217.60M223.95,215.0V217.60M224.70,215.0V219.00M229.61,215.0V217.60M232.48,215.0V217.60M234.51,215.0V217.60M236.09,215.0V217.60M237.38,215.0V217.60M238.48,215.0V217.60M239.42,215.0V217.60M240.25,215.0V217.60M241.00,215.0V219.00M245.91,215.0V217.60" stroke="#1a1a1a" stroke-width="1.0" fill="none"/>
<text x="243.5" y="154.1" font-size="8.0" text-anchor="end" textLength="8.50" lengthAdjust="spacingAndGlyphs" fill="#ad3c4e" stroke="#ad3c4e" stroke-width="0.1">65</text>
<text x="243.5" y="162.7" font-size="8.0" text-anchor="end" textLength="12.75" lengthAdjust="spacingAndGlyphs" fill="#4a6690" stroke="#4a6690" stroke-width="0.1">298</text>
<polygon points="260.10,215.00 260.10,213.50 261.00,212.20 261.90,208.70 262.60,203.40 263.20,195.50 263.80,186.80 264.40,179.00 265.00,172.00 265.40,164.90 265.80,156.20 266.30,148.30 266.70,147.00 267.30,148.30 267.60,156.20 267.90,164.90 268.20,172.00 268.80,179.00 269.40,186.80 269.80,195.50 270.20,202.60 270.80,207.80 271.50,211.30 272.90,212.90 275.10,213.50 278.60,214.00 281.00,214.70 281.00,215.00" fill="#79a85a"/>
<path d="M255.4,215.0 L255.4,144.6 Q255.4,143.6 256.4,143.6 L326.4,143.6 Q327.4,143.6 327.4,144.6 L327.4,215.0 M254.9,215.0 L327.9,215.0" fill="none" stroke="#161616" stroke-width="1.4"/>
<polyline points="258.00,214.65 260.10,214.65 261.50,213.50 262.80,212.20 263.60,209.60 264.50,206.10 265.40,200.80 266.30,195.50 267.20,186.80 267.60,180.00 268.00,176.30 268.70,171.00 269.40,167.60 270.20,165.80 270.70,160.50 271.10,154.40 271.40,150.00 271.80,147.80 272.40,150.90 272.90,156.20 273.70,157.00 274.60,157.90 275.20,160.50 275.80,164.00 276.60,164.90 277.50,168.40 278.10,171.00 279.00,175.00 279.60,180.00 279.90,183.30 281.20,185.90 282.50,189.40 283.80,192.90 284.70,197.30 285.60,200.80 286.90,202.60 288.20,206.10 289.30,207.50 290.40,209.00 291.80,211.70 293.60,212.70 295.50,212.40 296.90,213.10 298.20,214.65 300.10,212.90 302.90,213.30 305.60,214.65 309.30,214.65 326.80,214.65" fill="none" stroke="#68406e" stroke-width="1.2" stroke-linejoin="round"/>
<path d="M252.00,147.00H255.4M253.40,149.72H255.4M253.40,152.44H255.4M253.40,155.16H255.4M253.40,157.88H255.4M252.00,160.60H255.4M253.40,163.32H255.4M253.40,166.04H255.4M253.40,168.76H255.4M253.40,171.48H255.4M252.00,174.20H255.4M253.40,176.92H255.4M253.40,179.64H255.4M253.40,182.36H255.4M253.40,185.08H255.4M252.00,187.80H255.4M253.40,190.52H255.4M253.40,193.24H255.4M253.40,195.96H255.4M253.40,198.68H255.4M252.00,201.40H255.4M253.40,204.12H255.4M253.40,206.84H255.4M253.40,209.56H255.4M253.40,212.28H255.4M252.00,215.00H255.4M255.40,215.0V219.00M260.31,215.0V217.60M263.18,215.0V217.60M265.21,215.0V217.60M266.79,215.0V217.60M268.08,215.0V217.60M269.18,215.0V217.60M270.12,215.0V217.60M270.95,215.0V217.60M271.70,215.0V219.00M276.61,215.0V217.60M279.48,215.0V217.60M281.51,215.0V217.60M283.09,215.0V217.60M284.38,215.0V217.60M285.48,215.0V217.60M286.42,215.0V217.60M287.25,215.0V217.60M288.00,215.0V219.00M292.91,215.0V217.60M295.78,215.0V217.60M297.81,215.0V217.60M299.39,215.0V217.60M300.68,215.0V217.60M301.78,215.0V217.60M302.72,215.0V217.60M303.55,215.0V217.60M304.30,215.0V219.00M309.21,215.0V217.60M312.08,215.0V217.60M314.11,215.0V217.60M315.69,215.0V217.60M316.98,215.0V217.60M318.08,215.0V217.60M319.02,215.0V217.60M319.85,215.0V217.60M320.60,215.0V219.00M325.51,215.0V217.60" stroke="#1a1a1a" stroke-width="1.0" fill="none"/>
<text x="323.7" y="154.1" font-size="8.0" text-anchor="end" textLength="8.50" lengthAdjust="spacingAndGlyphs" fill="#7db35e" stroke="#7db35e" stroke-width="0.1">54</text>
<text x="323.7" y="162.7" font-size="8.0" text-anchor="end" textLength="12.75" lengthAdjust="spacingAndGlyphs" fill="#744c74" stroke="#744c74" stroke-width="0.1">267</text>
<polygon points="341.80,215.00 341.80,203.40 342.50,203.40 343.50,201.70 344.80,200.40 346.10,199.10 347.50,197.30 348.80,194.70 350.10,192.90 351.40,190.30 352.30,186.80 353.20,182.40 353.50,178.00 354.00,176.30 354.90,172.80 355.80,171.10 356.70,167.60 357.50,163.20 358.40,158.80 359.30,154.40 360.00,150.90 360.60,148.30 361.50,147.20 362.60,147.80 363.20,149.10 363.70,151.80 364.10,156.20 364.60,160.50 365.00,164.90 365.40,172.00 365.90,177.00 366.80,186.80 367.60,193.80 368.10,199.90 368.80,204.30 369.40,207.80 370.30,210.50 371.10,212.20 372.90,213.10 376.00,213.50 378.50,214.20 381.00,214.70 381.00,215.00" fill="#a13746"/>
<path d="M341.0,215.0 L341.0,144.6 Q341.0,143.6 342.0,143.6 L411.9,143.6 Q412.9,143.6 412.9,144.6 L412.9,215.0 M340.5,215.0 L413.4,215.0" fill="none" stroke="#161616" stroke-width="1.4"/>
<polyline points="341.30,212.60 342.60,213.50 344.40,213.10 347.00,213.30 349.60,212.90 352.30,211.80 354.50,210.50 356.20,209.10 357.50,208.30 358.90,204.30 360.20,200.80 361.50,196.40 362.60,191.20 363.50,185.00 363.90,179.00 364.40,172.80 365.00,167.60 365.40,163.20 366.10,157.90 366.80,154.40 367.20,150.00 367.60,147.20 368.20,152.60 368.90,153.50 369.60,151.80 370.30,155.30 370.70,159.70 371.10,164.00 371.80,168.40 372.30,172.80 372.60,178.00 372.90,185.00 373.80,192.00 374.60,198.20 375.50,204.10 376.40,207.80 376.80,208.50 378.20,211.70 380.10,214.65 382.40,214.65 412.30,214.65" fill="none" stroke="#41608e" stroke-width="1.2" stroke-linejoin="round"/>
<path d="M337.60,147.00H341.0M339.00,149.72H341.0M339.00,152.44H341.0M339.00,155.16H341.0M339.00,157.88H341.0M337.60,160.60H341.0M339.00,163.32H341.0M339.00,166.04H341.0M339.00,168.76H341.0M339.00,171.48H341.0M337.60,174.20H341.0M339.00,176.92H341.0M339.00,179.64H341.0M339.00,182.36H341.0M339.00,185.08H341.0M337.60,187.80H341.0M339.00,190.52H341.0M339.00,193.24H341.0M339.00,195.96H341.0M339.00,198.68H341.0M337.60,201.40H341.0M339.00,204.12H341.0M339.00,206.84H341.0M339.00,209.56H341.0M339.00,212.28H341.0M337.60,215.00H341.0M341.00,215.0V219.00M345.91,215.0V217.60M348.78,215.0V217.60M350.81,215.0V217.60M352.39,215.0V217.60M353.68,215.0V217.60M354.78,215.0V217.60M355.72,215.0V217.60M356.55,215.0V217.60M357.30,215.0V219.00M362.21,215.0V217.60M365.08,215.0V217.60M367.11,215.0V217.60M368.69,215.0V217.60M369.98,215.0V217.60M371.08,215.0V217.60M372.02,215.0V217.60M372.85,215.0V217.60M373.60,215.0V219.00M378.51,215.0V217.60M381.38,215.0V217.60M383.41,215.0V217.60M384.99,215.0V217.60M386.28,215.0V217.60M387.38,215.0V217.60M388.32,215.0V217.60M389.15,215.0V217.60M389.90,215.0V219.00M394.81,215.0V217.60M397.68,215.0V217.60M399.71,215.0V217.60M401.29,215.0V217.60M402.58,215.0V217.60M403.68,215.0V217.60M404.62,215.0V217.60M405.45,215.0V217.60M406.20,215.0V219.00M411.11,215.0V217.60" stroke="#1a1a1a" stroke-width="1.0" fill="none"/>
<text x="409.6" y="154.1" font-size="8.0" text-anchor="end" textLength="12.75" lengthAdjust="spacingAndGlyphs" fill="#ad3c4e" stroke="#ad3c4e" stroke-width="0.1">110</text>
<text x="409.6" y="162.7" font-size="8.0" text-anchor="end" textLength="12.75" lengthAdjust="spacingAndGlyphs" fill="#4a6690" stroke="#4a6690" stroke-width="0.1">240</text>
<polygon points="420.80,215.00 420.80,205.20 421.20,204.80 422.50,203.00 424.30,200.80 426.50,199.10 428.60,196.40 430.40,192.90 432.20,187.60 433.50,183.30 434.60,179.00 435.70,173.70 436.50,167.60 437.40,161.40 438.30,157.00 439.40,152.60 440.50,149.10 441.60,147.40 442.20,149.10 442.90,152.60 443.40,157.90 444.00,163.20 444.40,168.40 444.90,173.70 445.60,179.00 446.60,185.00 447.20,192.00 447.80,198.20 448.40,204.30 449.00,208.70 449.90,212.20 451.50,213.30 454.10,213.80 457.00,214.30 460.00,214.70 460.00,215.00" fill="#79a85a"/>
<path d="M420.3,215.0 L420.3,144.6 Q420.3,143.6 421.3,143.6 L491.0,143.6 Q492.0,143.6 492.0,144.6 L492.0,215.0 M419.8,215.0 L492.5,215.0" fill="none" stroke="#161616" stroke-width="1.4"/>
<polyline points="420.60,212.20 421.20,213.50 423.40,214.65 425.10,214.65 426.50,213.10 427.80,212.60 429.10,211.80 430.40,210.50 431.30,209.10 432.20,209.60 433.20,208.70 434.40,207.80 435.20,204.30 436.50,202.60 437.90,199.90 439.00,195.50 440.10,190.30 440.90,183.30 441.20,179.00 441.60,171.10 442.20,166.70 442.90,163.20 443.60,160.50 444.30,157.00 444.90,152.60 445.30,149.10 445.80,147.40 446.60,148.30 447.10,152.60 447.50,158.80 447.90,164.90 448.80,167.10 449.50,169.30 449.90,173.70 450.10,178.00 450.60,183.30 451.50,188.50 452.30,195.50 453.20,202.60 454.10,206.50 455.40,210.30 456.80,212.70 458.60,214.65 491.50,214.65" fill="none" stroke="#68406e" stroke-width="1.2" stroke-linejoin="round"/>
<path d="M416.90,147.00H420.3M418.30,149.72H420.3M418.30,152.44H420.3M418.30,155.16H420.3M418.30,157.88H420.3M416.90,160.60H420.3M418.30,163.32H420.3M418.30,166.04H420.3M418.30,168.76H420.3M418.30,171.48H420.3M416.90,174.20H420.3M418.30,176.92H420.3M418.30,179.64H420.3M418.30,182.36H420.3M418.30,185.08H420.3M416.90,187.80H420.3M418.30,190.52H420.3M418.30,193.24H420.3M418.30,195.96H420.3M418.30,198.68H420.3M416.90,201.40H420.3M418.30,204.12H420.3M418.30,206.84H420.3M418.30,209.56H420.3M418.30,212.28H420.3M416.90,215.00H420.3M420.30,215.0V219.00M425.21,215.0V217.60M428.08,215.0V217.60M430.11,215.0V217.60M431.69,215.0V217.60M432.98,215.0V217.60M434.08,215.0V217.60M435.02,215.0V217.60M435.85,215.0V217.60M436.60,215.0V219.00M441.51,215.0V217.60M444.38,215.0V217.60M446.41,215.0V217.60M447.99,215.0V217.60M449.28,215.0V217.60M450.38,215.0V217.60M451.32,215.0V217.60M452.15,215.0V217.60M452.90,215.0V219.00M457.81,215.0V217.60M460.68,215.0V217.60M462.71,215.0V217.60M464.29,215.0V217.60M465.58,215.0V217.60M466.68,215.0V217.60M467.62,215.0V217.60M468.45,215.0V217.60M469.20,215.0V219.00M474.11,215.0V217.60M476.98,215.0V217.60M479.01,215.0V217.60M480.59,215.0V217.60M481.88,215.0V217.60M482.98,215.0V217.60M483.92,215.0V217.60M484.75,215.0V217.60M485.50,215.0V219.00M490.41,215.0V217.60" stroke="#1a1a1a" stroke-width="1.0" fill="none"/>
<text x="488.8" y="154.1" font-size="8.0" text-anchor="end" textLength="12.75" lengthAdjust="spacingAndGlyphs" fill="#7db35e" stroke="#7db35e" stroke-width="0.1">119</text>
<text x="488.8" y="162.7" font-size="8.0" text-anchor="end" textLength="12.75" lengthAdjust="spacingAndGlyphs" fill="#744c74" stroke="#744c74" stroke-width="0.1">384</text>
<text x="496.3" y="101.4" font-size="7.8" textLength="12.6" lengthAdjust="spacingAndGlyphs" fill="#231f20" stroke="#231f20" stroke-width="0.2" >SPL</text>
<text x="496.3" y="181.8" font-size="7.8" textLength="10.4" lengthAdjust="spacingAndGlyphs" fill="#231f20" stroke="#231f20" stroke-width="0.2" >LIV</text>
<line x1="9.7" y1="225.4" x2="156.2" y2="225.4" stroke="#1a1a1a" stroke-width="1.1"/>
<path d="M162.2,225.4 L153.79999999999998,222.0 L155.6,225.4 L153.79999999999998,228.70000000000002 Z" fill="#1a1a1a"/>
<line x1="175.9" y1="225.4" x2="320.9" y2="225.4" stroke="#1a1a1a" stroke-width="1.1"/>
<path d="M326.9,225.4 L318.5,222.0 L320.29999999999995,225.4 L318.5,228.70000000000002 Z" fill="#1a1a1a"/>
<line x1="340.9" y1="225.4" x2="486.5" y2="225.4" stroke="#1a1a1a" stroke-width="1.1"/>
<path d="M492.5,225.4 L484.1,222.0 L485.9,225.4 L484.1,228.70000000000002 Z" fill="#1a1a1a"/>
<text x="75.0" y="237.7" font-size="10.2" textLength="22.4" lengthAdjust="spacingAndGlyphs" fill="#231f20" stroke="#231f20" stroke-width="0.2" >IFN-γ</text>
<text x="240.6" y="237.7" font-size="10.2" textLength="22.5" lengthAdjust="spacingAndGlyphs" fill="#231f20" stroke="#231f20" stroke-width="0.2" >IFN-γ</text>
<text x="408.5" y="238.0" font-size="10.2" textLength="15.6" lengthAdjust="spacingAndGlyphs" fill="#231f20" stroke="#231f20" stroke-width="0.2" >IL-4</text>
<text x="7.6" y="267.8" font-size="12.4" textLength="8.3" lengthAdjust="spacingAndGlyphs" fill="#231f20" stroke="#231f20" stroke-width="0.2" >D</text>
<text x="91.0" y="268.6" font-size="9.7" textLength="16.0" lengthAdjust="spacingAndGlyphs" fill="#231f20" stroke="#231f20" stroke-width="0.2" >2 hr</text>
<text x="255.4" y="268.3" font-size="9.7" textLength="21.4" lengthAdjust="spacingAndGlyphs" fill="#231f20" stroke="#231f20" stroke-width="0.2" >18 hr</text>
<path d="M57.90,381.9V378.9M53.30,378.9H62.50" stroke="#bdb7ba" stroke-width="1.1" fill="none"/>
<rect x="49.25" y="382.25" width="17.30" height="16.05" fill="#cac5c8" stroke="#b8b2b5" stroke-width="0.7"/>
<path d="M85.55,321.8V312.7M80.95,312.7H90.15" stroke="#4e6384" stroke-width="1.1" fill="none"/>
<rect x="76.75" y="322.15" width="17.60" height="76.15" fill="#4e6384" stroke="#3c5380" stroke-width="0.7"/>
<path d="M113.15,364.2V356.9M108.55,356.9H117.75" stroke="#79a85a" stroke-width="1.1" fill="none"/>
<rect x="104.35" y="364.55" width="17.60" height="33.75" fill="#79a85a" stroke="#6a9a4b" stroke-width="0.7"/>
<path d="M141.00,338V330.7M136.40,330.7H145.60" stroke="#6c4a6c" stroke-width="1.1" fill="none"/>
<rect x="132.25" y="338.35" width="17.50" height="59.95" fill="#6c4a6c" stroke="#5a3558" stroke-width="0.7"/>
<path d="M44.3,285V398.3H155.1" stroke="#1a1a1a" stroke-width="1.15" fill="none"/>
<text x="37.6" y="291.0" font-size="8.4" textLength="13.200000000000001" lengthAdjust="spacingAndGlyphs" text-anchor="end" fill="#231f20" stroke="#231f20" stroke-width="0.2" >400</text>
<text x="37.6" y="318.5" font-size="8.4" textLength="13.200000000000001" lengthAdjust="spacingAndGlyphs" text-anchor="end" fill="#231f20" stroke="#231f20" stroke-width="0.2" >300</text>
<text x="37.6" y="346.0" font-size="8.4" textLength="13.200000000000001" lengthAdjust="spacingAndGlyphs" text-anchor="end" fill="#231f20" stroke="#231f20" stroke-width="0.2" >200</text>
<text x="37.6" y="373.5" font-size="8.4" textLength="13.200000000000001" lengthAdjust="spacingAndGlyphs" text-anchor="end" fill="#231f20" stroke="#231f20" stroke-width="0.2" >100</text>
<text x="37.6" y="401.3" font-size="8.4" textLength="4.4" lengthAdjust="spacingAndGlyphs" text-anchor="end" fill="#231f20" stroke="#231f20" stroke-width="0.2" >0</text>
<path d="M41.3,288H44.3M41.3,315.5H44.3M41.3,343H44.3M41.3,370.5H44.3M41.3,398.3H44.3" stroke="#1a1a1a" stroke-width="1.1"/>
<line x1="57.7" y1="298.5" x2="83.1" y2="298.5" stroke="#2e2e2e" stroke-width="1.15"/>
<circle cx="69.85" cy="294.5" r="1.25" fill="#333"/>
<circle cx="73.15" cy="294.5" r="1.25" fill="#333"/>
<line x1="86.5" y1="298.5" x2="112.9" y2="298.5" stroke="#2e2e2e" stroke-width="1.15"/>
<circle cx="99.60" cy="294.5" r="1.25" fill="#333"/>
<line x1="114.4" y1="298.5" x2="141.3" y2="298.5" stroke="#2e2e2e" stroke-width="1.15"/>
<circle cx="127.90" cy="294.5" r="1.25" fill="#333"/>
<line x1="86.9" y1="287.2" x2="141.3" y2="287.2" stroke="#2e2e2e" stroke-width="1.15"/>
<text x="111.2" y="283.59999999999997" font-size="8.4" textLength="7.1" lengthAdjust="spacingAndGlyphs" fill="#231f20" stroke="#231f20" stroke-width="0.2" >ns</text>
<text transform="translate(16.3,354.6) rotate(-90)" x="0" y="0" font-size="8.8" textLength="25.3" lengthAdjust="spacingAndGlyphs" fill="#231f20">pg/ml</text>
<text x="89" y="410.7" font-size="9" textLength="21.6" lengthAdjust="spacingAndGlyphs" fill="#231f20" stroke="#231f20" stroke-width="0.2" >IFN-γ</text>
<path d="M253.00,319.5V306.2M248.40,306.2H257.60" stroke="#4e6384" stroke-width="1.1" fill="none"/>
<rect x="244.35" y="319.85" width="17.30" height="78.55" fill="#4e6384" stroke="#3c5380" stroke-width="0.7"/>
<path d="M279.75,394.6V393.6M275.15,393.6H284.35" stroke="#79a85a" stroke-width="1.1" fill="none"/>
<rect x="271.25" y="394.95" width="17.00" height="3.45" fill="#79a85a" stroke="#6a9a4b" stroke-width="0.7"/>
<path d="M306.75,329.6V328.1M302.15,328.1H311.35" stroke="#6c4a6c" stroke-width="1.1" fill="none"/>
<rect x="298.15" y="329.95" width="17.20" height="68.45" fill="#6c4a6c" stroke="#5a3558" stroke-width="0.7"/>
<path d="M213,284.2V398.4H320" stroke="#1a1a1a" stroke-width="1.15" fill="none"/>
<text x="205.6" y="290.4" font-size="8.4" textLength="17.6" lengthAdjust="spacingAndGlyphs" text-anchor="end" fill="#231f20" stroke="#231f20" stroke-width="0.2" >6000</text>
<text x="205.6" y="327.4" font-size="8.4" textLength="17.6" lengthAdjust="spacingAndGlyphs" text-anchor="end" fill="#231f20" stroke="#231f20" stroke-width="0.2" >4000</text>
<text x="205.6" y="364.4" font-size="8.4" textLength="17.6" lengthAdjust="spacingAndGlyphs" text-anchor="end" fill="#231f20" stroke="#231f20" stroke-width="0.2" >2000</text>
<text x="205.6" y="401.4" font-size="8.4" textLength="4.4" lengthAdjust="spacingAndGlyphs" text-anchor="end" fill="#231f20" stroke="#231f20" stroke-width="0.2" >0</text>
<path d="M210,287.4H213M210,324.4H213M210,361.4H213M210,398.4H213" stroke="#1a1a1a" stroke-width="1.1"/>
<line x1="227.7" y1="298.8" x2="253.7" y2="298.8" stroke="#2e2e2e" stroke-width="1.15"/>
<circle cx="239.55" cy="294.8" r="1.25" fill="#333"/>
<circle cx="242.85" cy="294.8" r="1.25" fill="#333"/>
<line x1="256.9" y1="298.8" x2="283.1" y2="298.8" stroke="#2e2e2e" stroke-width="1.15"/>
<circle cx="268.35" cy="294.8" r="1.25" fill="#333"/>
<circle cx="271.65" cy="294.8" r="1.25" fill="#333"/>
<line x1="285.4" y1="298.8" x2="311.9" y2="298.8" stroke="#2e2e2e" stroke-width="1.15"/>
<circle cx="296.85" cy="294.8" r="1.25" fill="#333"/>
<circle cx="300.15" cy="294.8" r="1.25" fill="#333"/>
<line x1="257.5" y1="287.4" x2="311.9" y2="287.4" stroke="#2e2e2e" stroke-width="1.15"/>
<text x="281.2" y="283.79999999999995" font-size="8.4" textLength="7.1" lengthAdjust="spacingAndGlyphs" fill="#231f20" stroke="#231f20" stroke-width="0.2" >ns</text>
<text transform="translate(180.2,354.1) rotate(-90)" x="0" y="0" font-size="8.8" textLength="25.1" lengthAdjust="spacingAndGlyphs" fill="#231f20">pg/ml</text>
<text x="255.9" y="410.7" font-size="9" textLength="21.6" lengthAdjust="spacingAndGlyphs" fill="#231f20" stroke="#231f20" stroke-width="0.2" >IFN-γ</text>
<rect x="335.2" y="282.30" width="9.1" height="9.1" fill="#cac5c8"/>
<text x="347.9" y="289.90000000000003" font-size="8.6" textLength="33.1" lengthAdjust="spacingAndGlyphs" fill="#231f20" stroke="#231f20" stroke-width="0.2" >Untreated</text>
<rect x="335.2" y="295.90" width="9.1" height="9.1" fill="#4e6384"/>
<text x="347.9" y="303.50000000000006" font-size="8.6" textLength="20.4" lengthAdjust="spacingAndGlyphs" fill="#231f20" stroke="#231f20" stroke-width="0.2" >PBS44</text>
<rect x="335.2" y="309.50" width="9.1" height="9.1" fill="#79a85a"/>
<text x="347.9" y="317.1" font-size="8.6" textLength="17.0" lengthAdjust="spacingAndGlyphs" fill="#231f20" stroke="#231f20" stroke-width="0.2" >ULFP</text>
<rect x="335.2" y="323.10" width="9.1" height="9.1" fill="#6c4a6c"/>
<text x="347.9" y="330.70000000000005" font-size="8.6" textLength="12.3" lengthAdjust="spacingAndGlyphs" fill="#231f20" stroke="#231f20" stroke-width="0.2" >LFP</text>
<rect x="1.5" y="1.5" width="517" height="419" fill="none" stroke="#8e8e8e" stroke-width="1"/>
<rect x="0.5" y="0.5" width="519" height="421" fill="none" stroke="#4a4a4a" stroke-width="1"/>
</svg>
</body></html>
